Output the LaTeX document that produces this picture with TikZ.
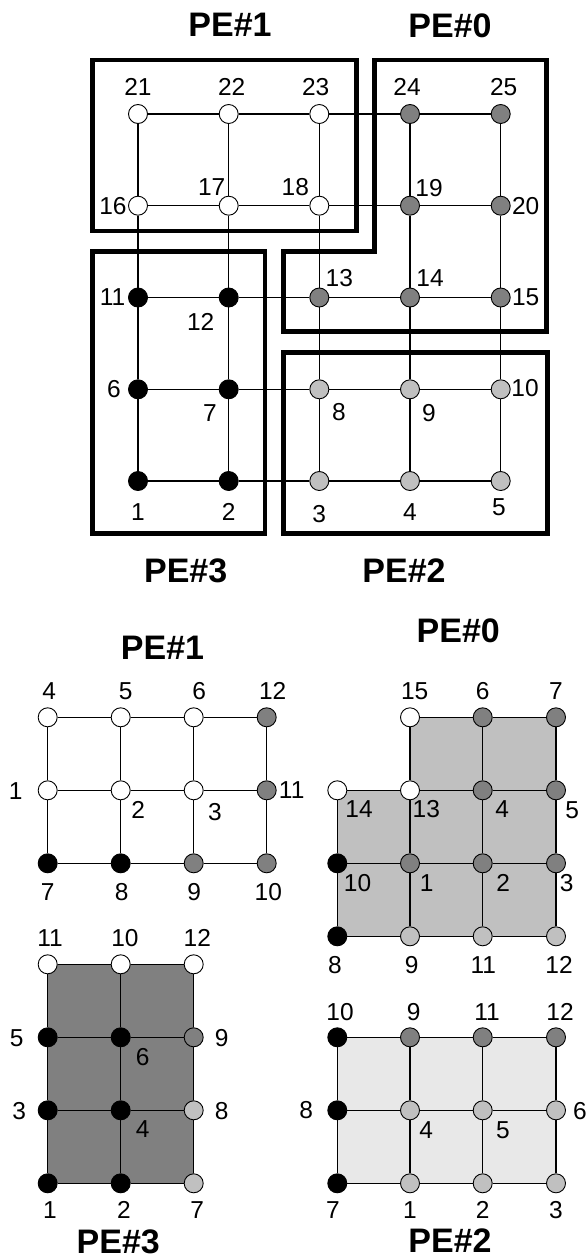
\documentclass[tikz,border=0pt]{standalone}
\usepackage{fontspec}
\setmainfont{Liberation Sans}
\definecolor{dgray}{HTML}{808080}
\definecolor{lgray}{HTML}{C0C0C0}
\definecolor{vlgray}{HTML}{E8E8E8}
\newcommand\numfont{\fontsize{24.5}{28}\selectfont}
\newcommand\ttlfont{\fontsize{34}{40}\selectfont\bfseries}
\newcommand\vx[5]{\node[#1] (#2) at (#3) {}; \path (#2.center) ++(#4) node[lbl] (#2l) {#5};}
\tikzset{
  nd/.style={circle, draw=black, line width=0.9pt, minimum size=19pt, inner sep=0pt},
  wn/.style={nd, fill=white},
  gn/.style={nd, fill=dgray},
  bn/.style={nd, fill=black},
  ln/.style={nd, fill=lgray},
  lbl/.style={font=\numfont, inner sep=0pt},
  ttl/.style={font=\ttlfont, inner sep=0pt},
  edge/.style={line width=1.3pt},
  frame/.style={line width=4.5pt, line join=miter}
}
\begin{document}
\begin{tikzpicture}[x=1pt,y=-1pt]
\useasboundingbox (0,0) rectangle (588,1258);
% ---------- top: whole mesh ----------
\node[ttl] (T1) at (230,25.3) {PE\#1};
\node[ttl] (T0) at (450,25.3) {PE\#0};
\node[ttl] (T3) at (185.7,570.7) {PE\#3};
\node[ttl] (T2) at (404,570.7) {PE\#2};
\vx{bn}{t1}{138,481}{0,30.7}{1}
\vx{bn}{t2}{228.7,481}{0,30.7}{2}
\vx{ln}{t3}{319.3,481}{0,33}{3}
\vx{ln}{t4}{410,481}{0,30.7}{4}
\vx{ln}{t5}{500.7,481}{-1.7,26.3}{5}
\vx{bn}{t6}{138,389.3}{-24,0}{6}
\vx{bn}{t7}{228.7,389.3}{-18.7,24}{7}
\vx{ln}{t8}{319.3,389.3}{19.7,22.4}{8}
\vx{ln}{t9}{410,389.3}{19,24}{9}
\vx{ln}{t10}{500.7,389.3}{24.3,-1}{10}
\vx{bn}{t11}{138,297.5}{-25.5,0}{11}
\vx{bn}{t12}{228.7,297.5}{-28,24}{12}
\vx{gn}{t13}{319.3,297.5}{20,-19}{13}
\vx{gn}{t14}{410,297.5}{20,-19}{14}
\vx{gn}{t15}{500.7,297.5}{25,0}{15}
\vx{wn}{t16}{138,205.7}{-25,0}{16}
\vx{wn}{t17}{228.7,205.7}{-17,-19}{17}
\vx{wn}{t18}{319.3,205.7}{-24,-19}{18}
\vx{gn}{t19}{410,205.7}{19,-18}{19}
\vx{gn}{t20}{500.7,205.7}{25,0}{20}
\vx{wn}{t21}{138,114}{0,-27}{21}
\vx{wn}{t22}{228.7,114}{3,-27}{22}
\vx{wn}{t23}{319.3,114}{-3.6,-27}{23}
\vx{gn}{t24}{410,114}{-3,-27}{24}
\vx{gn}{t25}{500.7,114}{3,-27}{25}
\draw[edge] (t1)--(t2)--(t3)--(t4)--(t5);
\draw[edge] (t6)--(t7)--(t8)--(t9)--(t10);
\draw[edge] (t11)--(t12)--(t13)--(t14)--(t15);
\draw[edge] (t16)--(t17)--(t18)--(t19)--(t20);
\draw[edge] (t21)--(t22)--(t23)--(t24)--(t25);
\draw[edge] (t1)--(t6)--(t11)--(t16)--(t21);
\draw[edge] (t2)--(t7)--(t12)--(t17)--(t22);
\draw[edge] (t3)--(t8)--(t13)--(t18)--(t23);
\draw[edge] (t4)--(t9)--(t14)--(t19)--(t24);
\draw[edge] (t5)--(t10)--(t15)--(t20)--(t25);
% partition frames
\draw[frame] (92.7,60) rectangle (356.7,231);
\draw[frame] (374.7,60) -- (546.7,60) -- (546.7,331.7) -- (283.3,331.7) -- (283.3,251.7) -- (374.7,251.7) -- cycle;
\draw[frame] (92.7,251.7) rectangle (265,533.3);
\draw[frame] (283.3,352.7) rectangle (547.7,533.3);
% ---------- bottom: local meshes ----------
\node[ttl] (B1) at (162.5,647.5) {PE\#1};
\node[ttl] (B0) at (458.3,630.8) {PE\#0};
\node[ttl] (B3) at (118.3,1241.7) {PE\#3};
\node[ttl] (B2) at (450,1240.5) {PE\#2};
% fills
\fill[dgray] (47.7,964.3) rectangle (193.7,1183.3);
\fill[lgray] (410,717.3) -- (556,717.3) -- (556,936.3) -- (337.3,936.3) -- (337.3,790.3) -- (410,790.3) -- cycle;
\fill[vlgray] (337.3,1037.3) rectangle (556,1183.3);
% PE#1 local
\vx{wn}{a4}{47.7,717.3}{1.5,-26}{4}
\vx{wn}{a5}{120.7,717.3}{5,-26}{5}
\vx{wn}{a6}{193.7,717.3}{5.5,-26}{6}
\vx{gn}{a12}{266.7,717.3}{6,-26}{12}
\vx{wn}{a1}{47.7,790.3}{-32,1}{1}
\vx{wn}{a2}{120.7,790.3}{17.6,20}{2}
\vx{wn}{a3}{193.7,790.3}{21.3,21.7}{3}
\vx{gn}{a11}{266.7,790.3}{25,0}{11}
\vx{bn}{a7}{47.7,863.3}{0,28.7}{7}
\vx{bn}{a8}{120.7,863.3}{1,28.7}{8}
\vx{gn}{a9}{193.7,863.3}{0.6,28.7}{9}
\vx{gn}{a10}{266.7,863.3}{1.6,28.7}{10}
\draw[edge] (a4)--(a5)--(a6)--(a12);
\draw[edge] (a1)--(a2)--(a3)--(a11);
\draw[edge] (a7)--(a8)--(a9)--(a10);
\draw[edge] (a4)--(a1)--(a7);
\draw[edge] (a5)--(a2)--(a8);
\draw[edge] (a6)--(a3)--(a9);
\draw[edge] (a12)--(a11)--(a10);
% PE#3 local
\vx{wn}{c11}{47.7,964.3}{2.3,-26}{11}
\vx{wn}{c10}{120.7,964.3}{4.3,-26}{10}
\vx{wn}{c12}{193.7,964.3}{3.6,-26}{12}
\vx{bn}{c5}{47.7,1037.3}{-31,0.7}{5}
\vx{bn}{c6}{120.7,1037.3}{22,19.4}{6}
\vx{gn}{c9}{193.7,1037.3}{28,0.7}{9}
\vx{bn}{c3}{47.7,1110.3}{-28.4,0.7}{3}
\vx{bn}{c4}{120.7,1110.3}{22,19}{4}
\vx{ln}{c8}{193.7,1110.3}{28,0.7}{8}
\vx{bn}{c1}{47.7,1183.3}{2.3,26.7}{1}
\vx{bn}{c2}{120.7,1183.3}{3.3,26.7}{2}
\vx{ln}{c7}{193.7,1183.3}{3.6,26.7}{7}
\draw[edge] (c11)--(c10)--(c12);
\draw[edge] (c5)--(c6)--(c9);
\draw[edge] (c3)--(c4)--(c8);
\draw[edge] (c1)--(c2)--(c7);
\draw[edge] (c11)--(c5)--(c3)--(c1);
\draw[edge] (c10)--(c6)--(c4)--(c2);
\draw[edge] (c12)--(c9)--(c8)--(c7);
% PE#0 local
\vx{wn}{z15}{410,717.3}{4.7,-26}{15}
\vx{gn}{z6}{482.7,717.3}{0,-26}{6}
\vx{gn}{z7}{556,717.3}{0,-26}{7}
\vx{wn}{z14}{337.3,790.3}{21.7,18.7}{14}
\vx{wn}{z13}{410,790.3}{16.3,18.7}{13}
\vx{gn}{z4}{482.7,790.3}{19.6,18.7}{4}
\vx{gn}{z5}{556,790.3}{16.3,20}{5}
\vx{bn}{z10}{337.3,863.3}{20.2,20}{10}
\vx{gn}{z1}{410,863.3}{16.7,20}{1}
\vx{gn}{z2}{482.7,863.3}{20.6,20}{2}
\vx{gn}{z3}{556,863.3}{10.7,20}{3}
\vx{bn}{z8}{337.3,936.3}{-2.3,28.7}{8}
\vx{ln}{z9}{410,936.3}{1.7,28.7}{9}
\vx{ln}{z11}{482.7,936.3}{0.6,28.7}{11}
\vx{ln}{z12}{556,936.3}{3,28.7}{12}
\draw[edge] (z15)--(z6)--(z7);
\draw[edge] (z14)--(z13)--(z4)--(z5);
\draw[edge] (z10)--(z1)--(z2)--(z3);
\draw[edge] (z8)--(z9)--(z11)--(z12);
\draw[edge] (z14)--(z10)--(z8);
\draw[edge] (z15)--(z13)--(z1)--(z9);
\draw[edge] (z6)--(z4)--(z2)--(z11);
\draw[edge] (z7)--(z5)--(z3)--(z12);
% PE#2 local
\vx{bn}{w10}{337.3,1037.3}{2.7,-25.6}{10}
\vx{gn}{w9}{410,1037.3}{3.7,-25.6}{9}
\vx{gn}{w11}{482.7,1037.3}{4.3,-25.6}{11}
\vx{gn}{w12}{556,1037.3}{4,-25.6}{12}
\vx{bn}{w8}{337.3,1110.3}{-31,0}{8}
\vx{ln}{w4}{410,1110.3}{16.3,19.7}{4}
\vx{ln}{w5}{482.7,1110.3}{20.3,19.7}{5}
\vx{ln}{w6}{556,1110.3}{24,0.7}{6}
\vx{bn}{w7}{337.3,1183.3}{-4.3,27}{7}
\vx{ln}{w1}{410,1183.3}{0,27}{1}
\vx{ln}{w2}{482.7,1183.3}{0,27}{2}
\vx{ln}{w3}{556,1183.3}{0,27}{3}
\draw[edge] (w10)--(w9)--(w11)--(w12);
\draw[edge] (w8)--(w4)--(w5)--(w6);
\draw[edge] (w7)--(w1)--(w2)--(w3);
\draw[edge] (w10)--(w8)--(w7);
\draw[edge] (w9)--(w4)--(w1);
\draw[edge] (w11)--(w5)--(w2);
\draw[edge] (w12)--(w6)--(w3);
\end{tikzpicture}
\end{document}
